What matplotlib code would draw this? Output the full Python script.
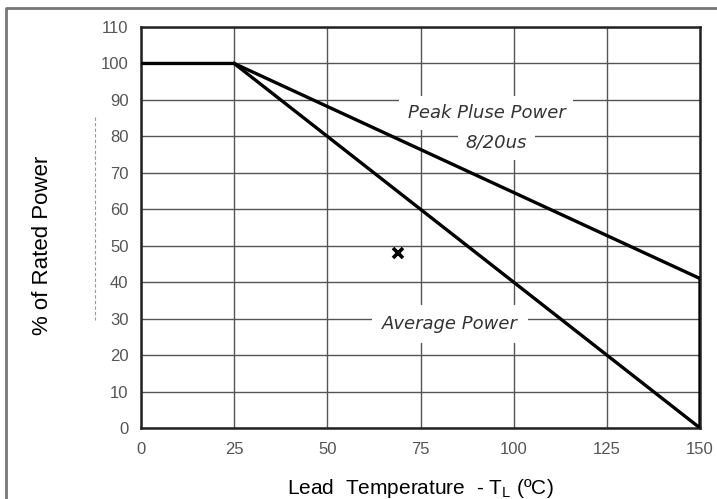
#!/usr/bin/env python3

import matplotlib
matplotlib.use("Agg")
import matplotlib.pyplot as plt
from matplotlib.lines import Line2D

# derating curves
peak_temp = [0, 25, 150]
peak_power = [100, 100, 41]
avg_temp = [25, 150, 150]
avg_power = [100, 0, 41]
mark_temp = [69]
mark_power = [48]

x_ticks = [0, 25, 50, 75, 100, 125, 150]
y_ticks = [0, 10, 20, 30, 40, 50, 60, 70, 80, 90, 100, 110]


def main():
    plt.rcParams["font.family"] = ["Liberation Sans", "DejaVu Sans"]

    fig = plt.figure(figsize=(7.17, 4.99), dpi=100)
    ax = fig.add_axes([141 / 717, 1 - 428 / 499, 559 / 717, 401 / 499])

    ax.set_xlim(0, 150)
    ax.set_ylim(0, 110)
    ax.set_xticks(x_ticks)
    ax.set_yticks(y_ticks)
    ax.grid(color="#555555", linewidth=1.0)
    ax.set_axisbelow(True)
    ax.tick_params(length=0, labelsize=12, labelcolor="#555555")
    ax.tick_params(axis="x", pad=10)
    ax.tick_params(axis="y", pad=9)
    for s in ax.spines.values():
        s.set_linewidth(1.8)
        s.set_color("#222222")

    ax.plot(peak_temp, peak_power, color="black", linewidth=2.4, zorder=4,
            solid_joinstyle="miter")
    ax.plot(avg_temp, avg_power, color="black", linewidth=2.4, zorder=4,
            solid_joinstyle="miter")
    ax.plot(mark_temp, mark_power, marker="x", color="black", markersize=7,
            markeredgewidth=2.6, linestyle="none", zorder=4)

    box = dict(facecolor="white", edgecolor="none", boxstyle="square,pad=0.45")
    txt = dict(family="DejaVu Sans", style="italic", fontsize=13,
               color="#333333", ha="center", va="center", zorder=3)
    ax.text(92.7, 86.5, "Peak Pluse Power", bbox=box, **txt)
    ax.text(95.4, 78.3, "8/20us", bbox=box, **txt)
    ax.text(83, 28.5, "Average Power",
            bbox=dict(facecolor="white", edgecolor="none",
                      boxstyle="square,pad=0.55"), **txt)

    ax.set_ylabel("% of Rated Power", fontsize=16)
    ax.yaxis.set_label_coords(-0.157, 0.456)
    ax.set_xlabel("Lead  Temperature  - T$_\\mathregular{L}$ (ºC)", fontsize=15)
    ax.xaxis.set_label_coords(0.5, -0.122)

    # outer frame of the datasheet figure, cut at right and bottom
    fig.add_artist(Line2D([6 / 717, 6 / 717, 1.0], [0.0, 1 - 8 / 499, 1 - 8 / 499],
                          color="#777777", linewidth=2.0))
    # faint scan artefact left of the y ticks
    fig.add_artist(Line2D([95 / 717, 95 / 717], [1 - 117 / 499, 1 - 320 / 499],
                          color="#999999", linewidth=0.8, linestyle=(0, (3, 2))))

    fig.savefig("out.png", dpi=100)


if __name__ == "__main__":
    main()
